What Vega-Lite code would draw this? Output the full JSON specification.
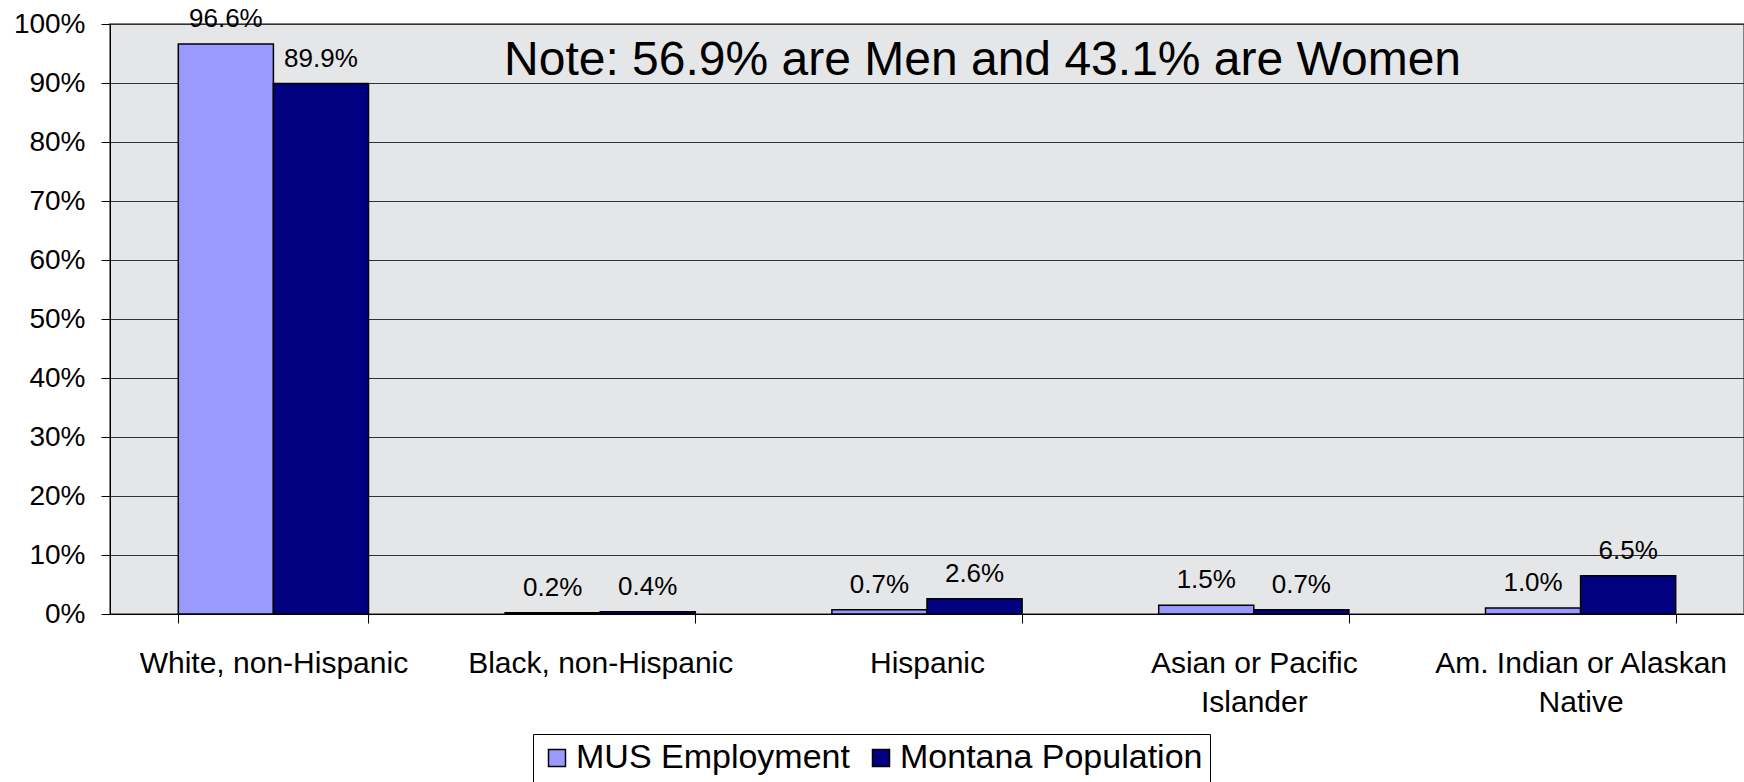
{
  "$schema": "https://vega.github.io/schema/vega-lite/v6.json",
  "width": 1634,
  "height": 590,
  "autosize": {"type": "none"},
  "padding": {"left": 110, "top": 24, "right": 0, "bottom": 168},
  "background": "white",
  "config": {
    "font": "Liberation Sans",
    "view": {"fill": "#e5e6e8", "stroke": "#808080", "strokeWidth": 2}
  },
  "resolve": {"scale": {"x": "independent", "y": "independent"}},
  "layer": [
    {
      "data": {
        "values": [
          {"category": "White, non-Hispanic", "series": "MUS Employment", "value": 0.966},
          {"category": "White, non-Hispanic", "series": "Montana Population", "value": 0.899},
          {"category": "Black, non-Hispanic", "series": "MUS Employment", "value": 0.002},
          {"category": "Black, non-Hispanic", "series": "Montana Population", "value": 0.004},
          {"category": "Hispanic", "series": "MUS Employment", "value": 0.007},
          {"category": "Hispanic", "series": "Montana Population", "value": 0.026},
          {"category": "Asian or Pacific Islander", "series": "MUS Employment", "value": 0.015},
          {"category": "Asian or Pacific Islander", "series": "Montana Population", "value": 0.007},
          {"category": "Am. Indian or Alaskan Native", "series": "MUS Employment", "value": 0.010},
          {"category": "Am. Indian or Alaskan Native", "series": "Montana Population", "value": 0.065}
        ]
      },
      "encoding": {
        "x": {
          "field": "category",
          "type": "nominal",
          "sort": null,
          "title": null,
          "scale": {"paddingInner": 0.418, "paddingOuter": 0.209},
          "axis": {
            "labelFont": "Liberation Sans",
            "labelFontSize": 30,
            "labelColor": "black",
            "labelAngle": 0,
            "labelPadding": 25,
            "labelLineHeight": 39,
            "labelLimit": 0,
            "labelOverlap": false,
            "labelBound": false,
            "tickSize": 9,
            "tickBand": "extent",
            "tickColor": "black",
            "domainColor": "black",
            "grid": false,
            "labelExpr": "datum.value == 'Asian or Pacific Islander' ? ['Asian or Pacific', 'Islander'] : datum.value == 'Am. Indian or Alaskan Native' ? ['Am. Indian or Alaskan', 'Native'] : datum.value"
          }
        },
        "xOffset": {
          "field": "series",
          "type": "nominal",
          "sort": ["MUS Employment", "Montana Population"],
          "scale": {"paddingInner": 0, "paddingOuter": 0}
        },
        "y": {
          "field": "value",
          "type": "quantitative",
          "title": null,
          "scale": {"domain": [0, 1], "nice": false},
          "axis": {
            "values": [0, 0.1, 0.2, 0.3, 0.4, 0.5, 0.6, 0.7, 0.8, 0.9, 1],
            "format": ".0%",
            "labelFont": "Liberation Sans",
            "labelFontSize": 28,
            "labelColor": "black",
            "labelPadding": 16,
            "tickSize": 9,
            "tickColor": "black",
            "domainColor": "black",
            "grid": true,
            "gridColor": "#333333",
            "gridWidth": 1
          }
        }
      },
      "layer": [
        {
          "mark": {"type": "bar", "stroke": "black", "strokeWidth": 1.5},
          "encoding": {
            "color": {
              "field": "series",
              "type": "nominal",
              "scale": {"domain": ["MUS Employment", "Montana Population"], "range": ["#9999FF", "#000080"]},
              "legend": {
                "orient": "none",
                "legendX": 423,
                "legendY": 710,
                "direction": "horizontal",
                "title": null,
                "labelFont": "Liberation Sans",
                "labelFontSize": 34,
                "labelColor": "black",
                "labelLimit": 600,
                "symbolType": "square",
                "symbolSize": 289,
                "symbolStrokeColor": "black",
                "symbolStrokeWidth": 1.5,
                "symbolOpacity": 1,
                "labelOffset": 2,
                "columnPadding": 14,
                "symbolOffset": 0,
                "padding": 7,
                "strokeColor": "black",
                "fillColor": "white"
              }
            }
          }
        },
        {
          "mark": {"type": "text", "baseline": "alphabetic", "dy": -17, "fontSize": 26, "color": "black", "font": "Liberation Sans"},
          "encoding": {
            "text": {"field": "value", "type": "quantitative", "format": ".1%"}
          }
        }
      ]
    },
    {
      "data": {"values": [{"note": "Note: 56.9% are Men and 43.1% are Women"}]},
      "mark": {"type": "text", "fontSize": 48, "baseline": "middle", "align": "center", "color": "black", "font": "Liberation Sans"},
      "encoding": {
        "text": {"field": "note", "type": "nominal"},
        "x": {"datum": 0.534, "type": "quantitative", "scale": {"domain": [0, 1], "nice": false}, "axis": null},
        "y": {"datum": 0.938, "type": "quantitative", "scale": {"domain": [0, 1], "nice": false}, "axis": null}
      }
    }
  ]
}
